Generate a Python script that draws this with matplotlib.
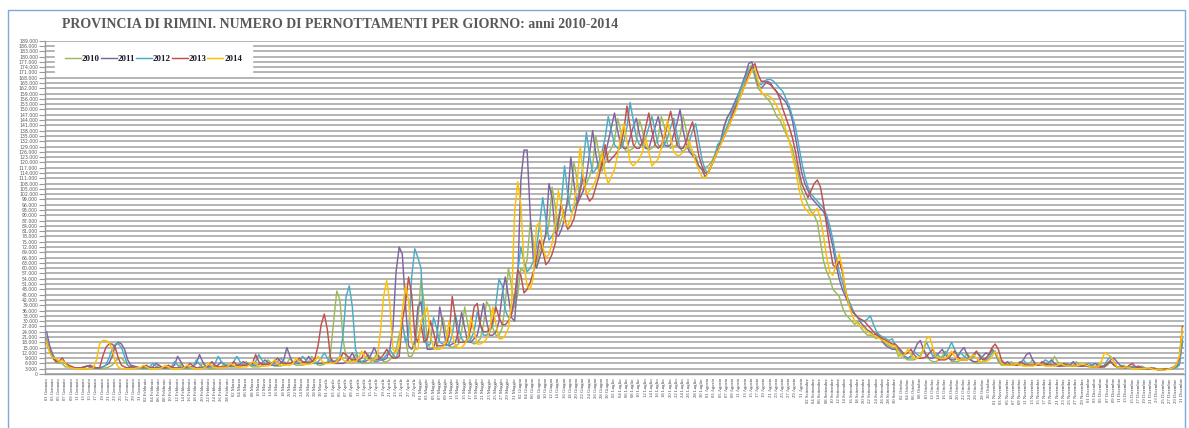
import numpy as np
import matplotlib.pyplot as plt
from matplotlib.patches import Rectangle

# Pernottamenti giornalieri, provincia di Rimini (migliaia), un elenco per mese
y2010 = (
    [18, 13, 9, 7, 6, 6, 4, 4, 4.5, 3.5, 3, 3, 3, 3, 3.5, 4, 3.5, 3, 3, 3.5, 4, 5, 7, 9, 9, 7, 5, 3.5, 3.5, 4, 3] +
    [3, 3, 3, 3, 3.5, 5, 4, 3, 3, 3, 3, 3.5, 5.5, 4, 3, 3, 3, 3, 4, 6, 4.5, 3, 3, 3, 3.5, 4, 6, 4.5] +
    [4, 4, 4, 4, 5, 7, 5, 4, 4, 4, 4.5, 5.5, 8, 6, 4.5, 4.5, 4.5, 5, 6, 9, 6, 5, 5, 5, 5.5, 7, 10, 7, 5, 5, 5.5] +
    [7, 12, 30, 47, 42, 20, 9, 7, 8, 11, 8, 6, 6, 6, 7, 9, 12, 9, 7, 7, 8, 10, 14, 22, 28, 20, 10, 10, 14, 30] +
    [54, 40, 18, 14, 14, 15, 22, 32, 24, 16, 15, 16, 17, 24, 38, 28, 18, 17, 18, 20, 28, 41, 38, 26, 22, 22, 26, 40, 60, 50, 38] +
    [45, 60, 58, 65, 86, 75, 62, 70, 74, 78, 85, 106, 95, 82, 88, 92, 96, 102, 120, 110, 100, 104, 108, 112, 118, 135, 125, 115, 120, 125] +
    [128, 132, 145, 138, 128, 126, 127, 128, 132, 144, 138, 128, 127, 128, 130, 134, 146, 140, 130, 128, 129, 130, 135, 146, 138, 128, 125, 124, 118, 116, 117] +
    [118, 120, 124, 128, 132, 138, 145, 148, 150, 154, 158, 163, 168, 174, 175, 168, 162, 160, 158, 156, 154, 150, 146, 144, 140, 136, 132, 128, 120, 112, 104] +
    [100, 96, 92, 90, 86, 75, 64, 58, 54, 48, 46, 44, 38, 34, 32, 30, 28, 30, 26, 24, 22, 22, 21, 20, 22, 19, 17, 16, 15, 15] +
    [10, 12, 9, 8, 8, 8, 9, 10, 14, 11, 8, 7, 7, 8, 10, 13, 10, 7, 7, 7, 8, 9, 12, 9, 7, 6, 6, 7, 8, 11, 13] +
    [12, 7, 5, 5, 5, 7, 6, 5, 5, 5, 5, 6, 8, 6, 5, 5, 5, 5, 6, 10, 7, 5, 5, 5, 5, 5, 7, 5, 4.5, 4.5] +
    [4, 4, 4, 6, 5, 4, 5, 7, 5, 4, 4, 5, 4, 3.5, 3.5, 3.5, 3.5, 4.5, 3.5, 3, 3, 3, 2.5, 2.5, 3, 3, 3, 4, 5, 8, 20]
)

y2011 = (
    [24, 16, 11, 8, 7, 9, 6, 5, 4, 3.5, 3.5, 3.5, 4, 4.5, 5, 4, 3.5, 3.5, 4, 5, 6, 10, 16, 18, 17, 14, 8, 5, 4.5, 4, 3.5] +
    [3.5, 3.5, 3.5, 4, 6, 5, 3.5, 3.5, 3.5, 4, 5, 10, 7, 4, 4, 4, 4.5, 6, 11, 7, 4.5, 4, 4, 4.5, 5, 7, 5, 4] +
    [4.5, 4.5, 5, 5.5, 7, 6, 5, 5, 5, 5.5, 6, 8, 6.5, 5, 5, 5, 6, 8, 15, 10, 6, 6, 6, 6.5, 7, 10, 7.5, 6, 6, 6, 6.5] +
    [6, 8, 6, 6, 6, 6, 7, 9, 12, 8, 7, 7, 7, 8, 11, 15, 11, 8, 8, 9, 14, 26, 58, 72, 68, 40, 16, 14, 18, 38] +
    [41, 24, 14, 14, 15, 20, 38, 28, 17, 16, 17, 18, 24, 35, 26, 18, 18, 20, 22, 30, 40, 30, 22, 22, 24, 30, 45, 55, 44, 32, 30] +
    [55, 110, 127, 127, 90, 65, 60, 66, 72, 80, 108, 100, 80, 78, 82, 88, 100, 123, 108, 96, 100, 104, 112, 125, 138, 125, 115, 118, 124, 132] +
    [140, 148, 138, 130, 128, 128, 134, 140, 145, 136, 130, 128, 128, 134, 140, 146, 137, 130, 129, 130, 136, 142, 150, 138, 130, 126, 124, 122, 118, 116, 112] +
    [114, 118, 122, 127, 132, 140, 145, 148, 152, 156, 160, 165, 170, 176, 177, 170, 164, 162, 164, 166, 165, 162, 160, 158, 156, 154, 150, 144, 134, 124, 114] +
    [108, 104, 100, 98, 96, 94, 92, 88, 80, 72, 62, 54, 48, 44, 40, 36, 34, 32, 29, 27, 25, 24, 22, 23, 21, 18, 16, 15, 14, 14] +
    [14, 12, 10, 9, 10, 13, 17, 19, 14, 10, 9, 9, 10, 12, 14, 11, 9, 8, 8, 10, 13, 15, 11, 8, 7, 7, 8, 10, 12, 11, 14] +
    [12, 8, 6, 6, 7, 5, 5, 5, 6, 8, 11, 12, 8, 5, 5, 5, 5, 6, 8, 6, 5, 4.5, 4.5, 4.5, 5, 7, 5, 4.5, 4.5, 4.5] +
    [4.5, 5, 6, 5, 4, 4, 6, 8, 9, 7, 5, 4, 4, 3.5, 3.5, 4, 4.5, 3.5, 3, 3, 3, 3, 2.5, 2.5, 2.5, 3, 3, 3.5, 4, 6, 18]
)

y2012 = (
    [20, 14, 10, 8, 7, 8, 6, 5, 4, 3.5, 3.5, 3.5, 3.5, 4.5, 4, 3.5, 3.5, 3.5, 4, 5, 9, 14, 17, 17, 15, 10, 5, 4, 4, 3.5, 3.5] +
    [3.5, 3.5, 4, 6, 4.5, 3.5, 3.5, 3.5, 3.5, 4, 7, 5, 4, 3.5, 3.5, 3.5, 4, 8, 5.5, 4, 4, 4, 4.5, 6, 10, 7, 5, 5] +
    [5, 7, 10, 7, 5, 5, 5, 5, 7, 11, 8, 5.5, 5.5, 5.5, 6, 7, 9, 7, 6, 6, 6, 6, 7, 10, 8, 6, 6, 6, 7, 9, 12] +
    [9, 7, 7, 8, 10, 22, 44, 50, 38, 14, 8, 7, 8, 11, 9, 7, 7, 8, 9, 11, 14, 11, 9, 14, 30, 18, 22, 55, 71, 66] +
    [60, 22, 16, 17, 32, 26, 18, 17, 16, 17, 22, 34, 26, 20, 18, 18, 20, 24, 35, 28, 22, 22, 24, 28, 40, 54, 50, 36, 32, 34, 40] +
    [58, 72, 64, 58, 60, 64, 72, 85, 100, 88, 76, 78, 82, 88, 98, 118, 102, 92, 94, 98, 106, 120, 137, 124, 114, 116, 120, 126, 134, 146] +
    [138, 130, 128, 128, 132, 140, 154, 144, 134, 130, 130, 134, 140, 146, 138, 130, 128, 130, 134, 140, 145, 136, 128, 126, 128, 132, 138, 142, 132, 122, 116] +
    [114, 118, 122, 130, 132, 136, 140, 145, 150, 154, 160, 164, 168, 172, 174, 170, 165, 164, 166, 167, 167, 166, 164, 162, 160, 156, 152, 146, 140, 130, 120] +
    [112, 106, 102, 100, 98, 96, 94, 90, 84, 76, 66, 58, 52, 46, 42, 38, 34, 32, 30, 30, 31, 33, 28, 24, 22, 21, 20, 19, 20, 16] +
    [14, 12, 10, 9, 10, 13, 11, 10, 14, 18, 14, 10, 12, 10, 9, 11, 14, 18, 14, 10, 12, 10, 9, 9, 10, 12, 11, 9, 8, 9, 12] +
    [13, 8, 7, 5.5, 5, 5, 5, 5, 6, 8, 6, 5, 5, 5, 5, 6, 8, 7, 5, 5, 4.5, 4.5, 5, 6, 5, 4.5, 4.5, 4.5, 4.5, 5] +
    [6, 5, 4, 4, 4, 5, 8, 10, 7, 4, 3.5, 3.5, 3.5, 4, 4.5, 3.5, 3, 3, 3, 3, 3, 3.5, 2.5, 2.5, 2.5, 3, 3, 3, 3.5, 5, 19]
)

y2013 = (
    [19, 13, 9, 7, 7, 9, 6, 5, 4, 3.5, 3.5, 3.5, 4, 4.5, 4, 3.5, 3.5, 3.5, 10, 15, 17, 17, 15, 9, 5, 4, 3.5, 4, 4, 3.5, 3.5] +
    [4, 5, 3.5, 3.5, 3.5, 3.5, 3.5, 3.5, 5, 4, 3.5, 3.5, 3.5, 3.5, 4, 6, 4.5, 3.5, 3.5, 3.5, 4, 4.5, 7, 5, 4, 4, 4, 4.5] +
    [5, 7, 5, 5, 5, 5, 5.5, 6, 11, 7, 5.5, 5.5, 5.5, 6, 7, 9, 7, 6, 6, 6, 6.5, 7, 9, 7, 6.5, 6.5, 7, 9, 16, 28, 34] +
    [25, 9, 7, 7, 8, 12, 11, 9, 8, 8, 8, 9, 13, 10, 8, 8, 8, 9, 11, 14, 11, 9, 9, 10, 30, 40, 55, 45, 22, 18] +
    [28, 18, 20, 30, 24, 16, 16, 16, 17, 22, 44, 32, 18, 18, 18, 20, 26, 38, 40, 28, 24, 24, 25, 30, 38, 32, 28, 28, 30, 34, 44] +
    [59, 56, 46, 48, 52, 58, 66, 76, 70, 62, 64, 68, 74, 86, 96, 88, 82, 84, 88, 96, 104, 112, 102, 98, 100, 106, 112, 120, 130, 120] +
    [122, 124, 126, 130, 138, 152, 140, 130, 128, 128, 132, 140, 148, 138, 130, 128, 130, 134, 142, 149, 140, 130, 128, 128, 132, 138, 143, 134, 124, 118, 114] +
    [114, 118, 122, 126, 130, 134, 138, 142, 148, 152, 156, 160, 165, 170, 174, 176, 170, 166, 166, 165, 164, 162, 160, 156, 150, 145, 140, 134, 126, 116, 108] +
    [104, 100, 104, 108, 110, 106, 96, 84, 72, 62, 60, 64, 58, 48, 40, 36, 34, 32, 31, 30, 28, 26, 24, 22, 21, 20, 19, 18, 17, 17] +
    [15, 13, 11, 12, 14, 11, 9, 9, 9, 10, 12, 14, 10, 8, 8, 8, 9, 11, 13, 10, 8, 8, 8, 9, 11, 13, 10, 8, 9, 11, 15] +
    [17, 14, 8, 6, 5, 5, 5, 5, 7, 6, 5, 5, 5, 5, 5, 7, 6, 5, 5, 5, 4.5, 4.5, 6, 5, 4.5, 4.5, 4.5, 4.5, 4.5, 5.5] +
    [4.5, 4, 4, 4, 4, 4.5, 6, 7, 5, 4, 3.5, 3.5, 3.5, 5, 6, 4, 3.5, 3, 3, 3, 3.5, 3, 2.5, 2.5, 2.5, 3, 3, 3.5, 5, 9, 27]
)

y2014 = (
    [19, 12, 9, 9, 7, 8, 6, 4, 3.5, 3, 3, 3, 3, 3, 3, 3.5, 8, 17, 19, 19, 18, 14, 7, 4, 3, 3, 3, 3, 3, 3.5, 3.5] +
    [5, 4, 3, 3, 3, 3, 3.5, 5, 4, 3, 3, 3, 3, 3.5, 5, 4, 3, 3, 3, 3, 4, 6, 4.5, 3.5, 3.5, 3.5, 3.5, 4] +
    [6, 5, 4, 4, 4, 4, 5, 7, 6, 4.5, 4.5, 4.5, 4.5, 5.5, 8, 6, 5, 5, 5, 5, 6, 9, 7, 5.5, 5.5, 5.5, 6, 7, 10, 8, 6] +
    [6, 6, 6, 7, 10, 8, 7, 7, 7, 7, 9, 13, 10, 8, 8, 8, 10, 24, 44, 53, 40, 14, 12, 16, 36, 50, 42, 18, 14, 14] +
    [30, 34, 38, 22, 15, 14, 14, 15, 18, 30, 22, 16, 15, 15, 17, 20, 32, 24, 17, 17, 18, 20, 24, 38, 28, 20, 20, 22, 26, 40, 92] +
    [109, 96, 62, 50, 48, 55, 84, 86, 72, 66, 68, 74, 86, 104, 96, 86, 84, 88, 96, 108, 129, 112, 102, 104, 106, 110, 116, 126, 114, 108] +
    [112, 116, 124, 134, 142, 132, 120, 118, 120, 122, 126, 134, 126, 118, 120, 122, 128, 136, 144, 134, 126, 124, 124, 126, 128, 132, 126, 120, 116, 112, 111] +
    [114, 118, 122, 126, 130, 134, 138, 142, 146, 150, 156, 160, 164, 168, 172, 173, 166, 160, 158, 158, 157, 155, 152, 148, 144, 138, 132, 124, 116, 106, 98] +
    [94, 92, 90, 92, 94, 88, 78, 66, 58, 56, 62, 68, 60, 48, 40, 34, 30, 28, 27, 26, 24, 23, 22, 21, 20, 19, 18, 17, 16, 16] +
    [12, 10, 11, 14, 11, 9, 9, 10, 14, 20, 21, 15, 10, 9, 9, 9, 10, 13, 10, 8, 8, 8, 8, 9, 11, 9, 7, 7, 7, 8, 10] +
    [13, 9, 6, 5, 5, 5, 5, 6, 5, 4.5, 4.5, 4.5, 4.5, 5, 6, 5, 4.5, 4.5, 4.5, 4.5, 5, 6, 5, 4.5, 4.5, 4.5, 4.5, 5, 6, 5] +
    [4.5, 4, 4, 4, 7, 12, 11, 10, 7, 4, 3.5, 3.5, 4, 3.5, 3, 3, 3, 3, 3, 3.5, 3, 2.5, 2.5, 2.5, 2, 2.5, 3, 3.5, 5, 10, 26]
)

years = [2010, 2011, 2012, 2013, 2014]
colors = ['#9bbb59', '#8064a2', '#4bacc6', '#c0504d', '#ffc000']
series = [y2010, y2011, y2012, y2013, y2014]

mesi = ['Gennaio', 'Febbraio', 'Marzo', 'Aprile', 'Maggio', 'Giugno', 'Luglio',
        'Agosto', 'Settembre', 'Ottobre', 'Novembre', 'Dicembre']
giorni_mese = [31, 28, 31, 30, 31, 30, 31, 31, 30, 31, 30, 31]

# etichette dei giorni: "01 Gennaio" ... "31 Dicembre"
giorni = [f"{d:02d} {m}" for m, n in zip(mesi, giorni_mese) for d in range(1, n + 1)]

W, H = 1189, 428
fig = plt.figure(figsize=(W / 100, H / 100), dpi=100)
ax = fig.add_axes([45 / W, 1 - 374 / H, (1184 - 45) / W, (374 - 40.7) / H])

for year, vals, col in zip(years, series, colors):
    v = np.array(vals) * 1000
    ax.plot(np.arange(len(v)), v, color=col, lw=1.05, label=str(year))

ax.set_xlim(-0.5, 364.5)
ax.set_ylim(0, 189000)
yt = np.arange(0, 189001, 3000)
ax.set_yticks(yt)
ax.set_yticklabels([f"{int(t):,}".replace(',', '.') for t in yt],
                   fontsize=3.3, color='#595959')
ax.yaxis.grid(True, color='#a0a0a0', lw=1.1)
ax.set_axisbelow(True)

xt = np.arange(0, 365, 2)
ax.set_xticks(xt)
ax.set_xticklabels([giorni[i] for i in xt], rotation=90, fontsize=3.4,
                   family='Liberation Serif', color='#3a3a4a')
ax.tick_params(axis='y', length=4, width=0.8, color='#999999', pad=1)
ax.tick_params(axis='x', length=0, pad=3)

for s in ['top', 'right']:
    ax.spines[s].set_visible(False)
for s in ['left', 'bottom']:
    ax.spines[s].set_color('#999999')
    ax.spines[s].set_linewidth(1.0)

leg = ax.legend(ncol=5, loc='upper left', bbox_to_anchor=(10 / 1139, 1 - 4 / 333),
                borderaxespad=0, frameon=True, fancybox=False, framealpha=1,
                facecolor='white', edgecolor='white', handlelength=1.8,
                handletextpad=0.1, columnspacing=0.1, borderpad=1.1,
                prop={'family': 'Liberation Serif', 'weight': 'bold', 'size': 6.4})
for t in leg.get_texts():
    t.set_color('#1a1a2a')

fig.text(62 / W, 1 - 24 / H,
         'PROVINCIA DI RIMINI. NUMERO DI PERNOTTAMENTI PER GIORNO: anni 2010-2014',
         fontsize=10, fontweight='bold', family='Liberation Serif', color='#595959',
         va='center', ha='left')

fig.add_artist(Rectangle((7.5 / W, -0.05), (1185 - 7.5) / W, 1 - 10 / H + 0.05,
                         transform=fig.transFigure, fill=False,
                         edgecolor='#7fa7d9', lw=1.0))

fig.savefig('out.png', dpi=100)
